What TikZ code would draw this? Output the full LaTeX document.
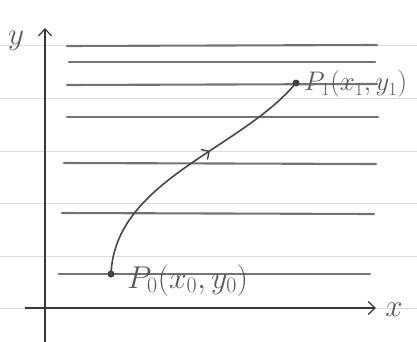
\documentclass[tikz,border=0pt]{standalone}
\usepackage{graphicx}
\usetikzlibrary{arrows.meta,decorations.markings}
\begin{document}
\begin{tikzpicture}[x=1pt,y=-1pt,
  ruling/.style={black!13,line width=0.6pt},
  band/.style={black!55,line width=2.1pt,line cap=round},
  axis/.style={black!78,line width=1.2pt,-{Straight Barb[length=7pt,width=13pt,line width=1.2pt]}},
  pt/.style={circle,fill=black!75,inner sep=0pt,minimum size=7pt},
  lbl/.style={inner sep=0pt,text=black!65,font=\fontsize{23}{26}\selectfont},
  curve/.style={black!72,line width=1.6pt,
    postaction={decorate,decoration={markings,mark=at position 0.6 with {\arrow{Straight Barb[length=6pt,width=12pt,line width=1.4pt]}}}}}
]
\useasboundingbox (0,0) rectangle (417,342);
% faint paper ruling
\foreach \yy in {45,98,151,203,256,308} \draw[ruling] (0,\yy) -- (417,\yy);
% thick gray lines
\draw[band] (67,46) -- (377,45);
\draw[band] (69,62) -- (375,62);
\draw[band] (67,85) -- (377,84);
\draw[band] (67,117) -- (378,117);
\draw[band] (64,163) -- (376,164);
\draw[band] (62,213) -- (374,214);
\draw[band] (59,274) -- (370,274);
% axes
\coordinate (xs) at (25,308);
\coordinate (xe) at (376,308);
\coordinate (ys) at (45,342);
\coordinate (ye) at (45,28);
\draw[axis] (xs) -- (xe);
\draw[axis] (ys) -- (ye);
\node[lbl,anchor=center] (ylab) at (16,41) {\scalebox{1.25}{$y$}};
\node[lbl,anchor=center] (xlab) at (394,310) {\scalebox{1.25}{$x$}};
% points
\node[pt] (P0) at (111,274) {};
\node[pt] (P1) at (296,83) {};
\draw[curve] (P0.center) .. controls (115,180) and (240,150) .. (P1.center);
\node[lbl,anchor=base west] (L0) at (127,288) {\scalebox{1.27}{$P_0(x_0, y_0)$}};
\node[lbl,anchor=base west] (L1) at (304,91) {\scalebox{1.08}{$P_1(x_1, y_1)$}};
\end{tikzpicture}
\end{document}
